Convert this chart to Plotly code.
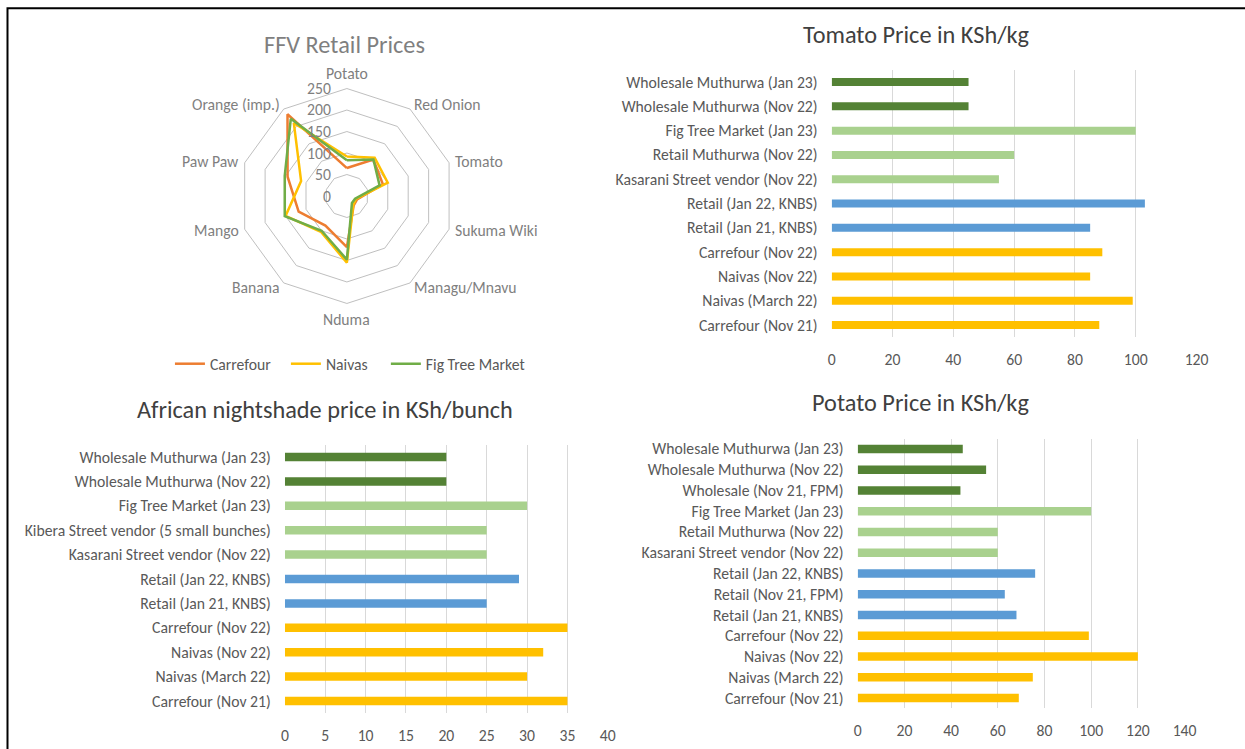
import math
import plotly.graph_objects as go

W, H = 1245, 749

# ---------------- data ----------------
radar_categories = ["Potato", "Red Onion", "Tomato", "Sukuma Wiki", "Managu/Mnavu",
                    "Nduma", "Banana", "Mango", "Paw Paw", "Orange (imp.)"]
radar_carrefour = [65, 105, 88, 25, 27, 119, 85, 118, 145, 235]
radar_naivas = [92, 110, 100, 22, 25, 155, 103, 150, 112, 210]
radar_figtree = [83, 105, 80, 20, 20, 148, 100, 152, 152, 222]
radar_series = ["Carrefour", "Naivas", "Fig Tree Market"]
radar_ticks = [0, 50, 100, 150, 200, 250]

tomato_labels = ["Wholesale Muthurwa (Jan 23)", "Wholesale Muthurwa (Nov 22)",
                 "Fig Tree Market (Jan 23)", "Retail Muthurwa (Nov 22)",
                 "Kasarani Street vendor (Nov 22)", "Retail (Jan 22, KNBS)",
                 "Retail (Jan 21, KNBS)", "Carrefour (Nov 22)", "Naivas (Nov 22)",
                 "Naivas (March 22)", "Carrefour (Nov 21)"]
tomato_values = [45, 45, 100, 60, 55, 103, 85, 89, 85, 99, 88]
tomato_groups = ["wholesale", "wholesale", "market", "market", "market",
                 "official", "official", "shop", "shop", "shop", "shop"]

nightshade_labels = ["Wholesale Muthurwa (Jan 23)", "Wholesale Muthurwa (Nov 22)",
                     "Fig Tree Market (Jan 23)", "Kibera Street vendor (5 small bunches)",
                     "Kasarani Street vendor (Nov 22)", "Retail (Jan 22, KNBS)",
                     "Retail (Jan 21, KNBS)", "Carrefour (Nov 22)", "Naivas (Nov 22)",
                     "Naivas (March 22)", "Carrefour (Nov 21)"]
nightshade_values = [20, 20, 30, 25, 25, 29, 25, 35, 32, 30, 35]
nightshade_groups = ["wholesale", "wholesale", "market", "market", "market",
                     "official", "official", "shop", "shop", "shop", "shop"]

potato_labels = ["Wholesale Muthurwa (Jan 23)", "Wholesale Muthurwa (Nov 22)",
                 "Wholesale (Nov 21, FPM)", "Fig Tree Market (Jan 23)",
                 "Retail Muthurwa (Nov 22)", "Kasarani Street vendor (Nov 22)",
                 "Retail (Jan 22, KNBS)", "Retail (Nov 21, FPM)", "Retail (Jan 21, KNBS)",
                 "Carrefour (Nov 22)", "Naivas (Nov 22)", "Naivas (March 22)",
                 "Carrefour (Nov 21)"]
potato_values = [45, 55, 44, 100, 60, 60, 76, 63, 68, 99, 120, 75, 69]
potato_groups = ["wholesale", "wholesale", "wholesale", "market", "market", "market",
                 "official", "official", "official", "shop", "shop", "shop", "shop"]

titles = ["FFV Retail Prices", "Tomato Price in KSh/kg",
          "African nightshade price in KSh/bunch", "Potato Price in KSh/kg"]

# ---------------- styles ----------------
FONT = "Carlito, Calibri, Lato, 'Open Sans', sans-serif"
TXT = "#595959"
RADAR_TXT = "#7f7f7f"
GRID = "#d9d9d9"
FS = 15.7
group_colors = {"wholesale": "#548235", "market": "#a9d18e",
                "official": "#5b9bd5", "shop": "#ffc000"}
radar_colors = ["#ed7d31", "#ffc000", "#70ad47"]

# horizontal correction observed in the rendering pipeline
XA, XB = 4.0, 0.9875


def px_x(x):
    return ((x - XA) / XB) / W


def px_y(y):
    return 1 - y / H


fig = go.Figure()

# ---------------- radar ----------------
legend_ids = ["legend", "legend2", "legend3"]
for name, vals, col, lg in zip(radar_series, [radar_carrefour, radar_naivas, radar_figtree],
                               radar_colors, legend_ids):
    fig.add_trace(go.Scatterpolar(
        r=vals + vals[:1], theta=radar_categories + radar_categories[:1],
        mode="lines", name=name, line=dict(color=col, width=2.5),
        subplot="polar", showlegend=True, legend=lg))

cx, cy, R = 347, 196, 107.5
rmax = radar_ticks[-1]
fig.update_layout(polar=dict(
    domain=dict(x=[px_x(cx - R), px_x(cx + R)], y=[px_y(cy + R), px_y(cy - R)]),
    gridshape="linear",
    bgcolor="white",
    radialaxis=dict(range=[0, rmax], tickvals=radar_ticks, showline=False,
                    gridcolor="#bfbfbf", gridwidth=1, angle=90,
                    showticklabels=False, ticks=""),
    angularaxis=dict(rotation=90, direction="clockwise", showgrid=False,
                     showline=True, linecolor="#bfbfbf", linewidth=1, ticks="",
                     showticklabels=False),
))

# category labels around the radar, placed just outside each spoke end
n_cat = len(radar_categories)
for i, cat in enumerate(radar_categories):
    ang = math.radians(90 - 360.0 * i / n_cat)
    ca, sa = math.cos(ang), math.sin(ang)
    lx = cx + (R + 5) * ca
    ly = cy - (R + 5) * sa
    if abs(ca) < 0.1:
        xanc = "center"
        yanc = "bottom" if sa > 0 else "top"
    else:
        xanc = "left" if ca > 0 else "right"
        yanc = "middle"
    fig.add_annotation(text=cat, x=px_x(lx), y=px_y(ly), xref="paper", yref="paper",
                       xanchor=xanc, yanchor=yanc, showarrow=False, borderpad=0,
                       font=dict(family=FONT, size=FS, color=RADAR_TXT))

# radial value labels on the left of the vertical spoke
for v in radar_ticks:
    fig.add_annotation(text=str(v), x=px_x(cx - 15), y=px_y(cy - v / rmax * R),
                       xref="paper", yref="paper", xanchor="right", yanchor="middle",
                       showarrow=False, borderpad=0,
                       font=dict(family=FONT, size=FS, color=RADAR_TXT))

# ---------------- bar charts ----------------
bar_specs = [
    ("x", "y", tomato_labels, tomato_values, tomato_groups, [832, 1197], [69.9, 337.2], 120, 20, 0.33),
    ("x2", "y2", nightshade_labels, nightshade_values, nightshade_groups, [285, 608], [444.8, 713.2], 40, 5, 0.35),
    ("x3", "y3", potato_labels, potato_values, potato_groups, [858, 1185], [438.6, 708.4], 140, 20, 0.4),
]
for xa, ya, labels, values, groups, xd, yd, xmax, dt, bw in bar_specs:
    fig.add_trace(go.Bar(
        x=values, y=labels, orientation="h", xaxis=xa, yaxis=ya,
        marker=dict(color=[group_colors[g] for g in groups], line=dict(width=0)),
        width=bw, showlegend=False))
    xkey = "xaxis" + xa[1:]
    ykey = "yaxis" + ya[1:]
    fig.layout[xkey] = dict(
        domain=[px_x(xd[0]), px_x(xd[1])], anchor=ya, range=[0, xmax], dtick=dt,
        showgrid=True, gridcolor=GRID, gridwidth=1, zeroline=False, showline=False,
        ticks="outside", ticklen=8, tickcolor="rgba(0,0,0,0)",
        tickfont=dict(family=FONT, size=FS, color=TXT), fixedrange=True)
    fig.layout[ykey] = dict(
        domain=[px_y(yd[1]), px_y(yd[0])], anchor=xa, type="category",
        categoryorder="array", categoryarray=labels,
        range=[len(labels) - 0.5, -0.5], showgrid=False, zeroline=False,
        showline=False, ticks="outside", ticklen=10, tickcolor="rgba(0,0,0,0)",
        tickfont=dict(family=FONT, size=FS, color=TXT), fixedrange=True)

# ---------------- titles ----------------
title_pos = [(345, 45, "#7f7f7f"), (917, 35, "#404040"), (325, 410, "#404040"), (921, 403, "#404040")]
for t, (x, y, c) in zip(titles, title_pos):
    fig.add_annotation(text=t, x=px_x(x), y=px_y(y), xref="paper", yref="paper",
                       xanchor="center", yanchor="middle", showarrow=False,
                       font=dict(family=FONT, size=24.3, color=c))

# frame
fig.add_shape(type="rect", xref="paper", yref="paper",
              x0=px_x(7.5), x1=1.2, y0=-0.2, y1=px_y(8.3),
              line=dict(color="black", width=2))

legend_left = [170, 286, 386]
legend_cfg = {}
for lg, lx in zip(legend_ids, legend_left):
    legend_cfg[lg] = dict(orientation="h", x=px_x(lx), y=px_y(364), xanchor="left",
                          yanchor="middle", font=dict(family=FONT, size=FS, color=TXT),
                          bgcolor="rgba(0,0,0,0)")

fig.update_layout(
    autosize=True, margin=dict(l=0, r=0, t=0, b=0),
    paper_bgcolor="white", plot_bgcolor="white",
    font=dict(family=FONT, color=TXT, size=FS),
    **legend_cfg,
)

fig.write_html(
    "out.html",
    config={"displayModeBar": False, "responsive": True},
    default_width="100%", default_height="100vh",
    post_script=("document.documentElement.style.margin='0';"
                 "document.documentElement.style.overflow='hidden';"
                 "document.body.style.margin='0';"
                 "document.body.style.overflow='hidden';"
                 "var gd=document.getElementById('{plot_id}');"
                 "gd.style.height='100vh';gd.style.width='100%';"
                 "Plotly.Plots.resize(gd);"),
)
